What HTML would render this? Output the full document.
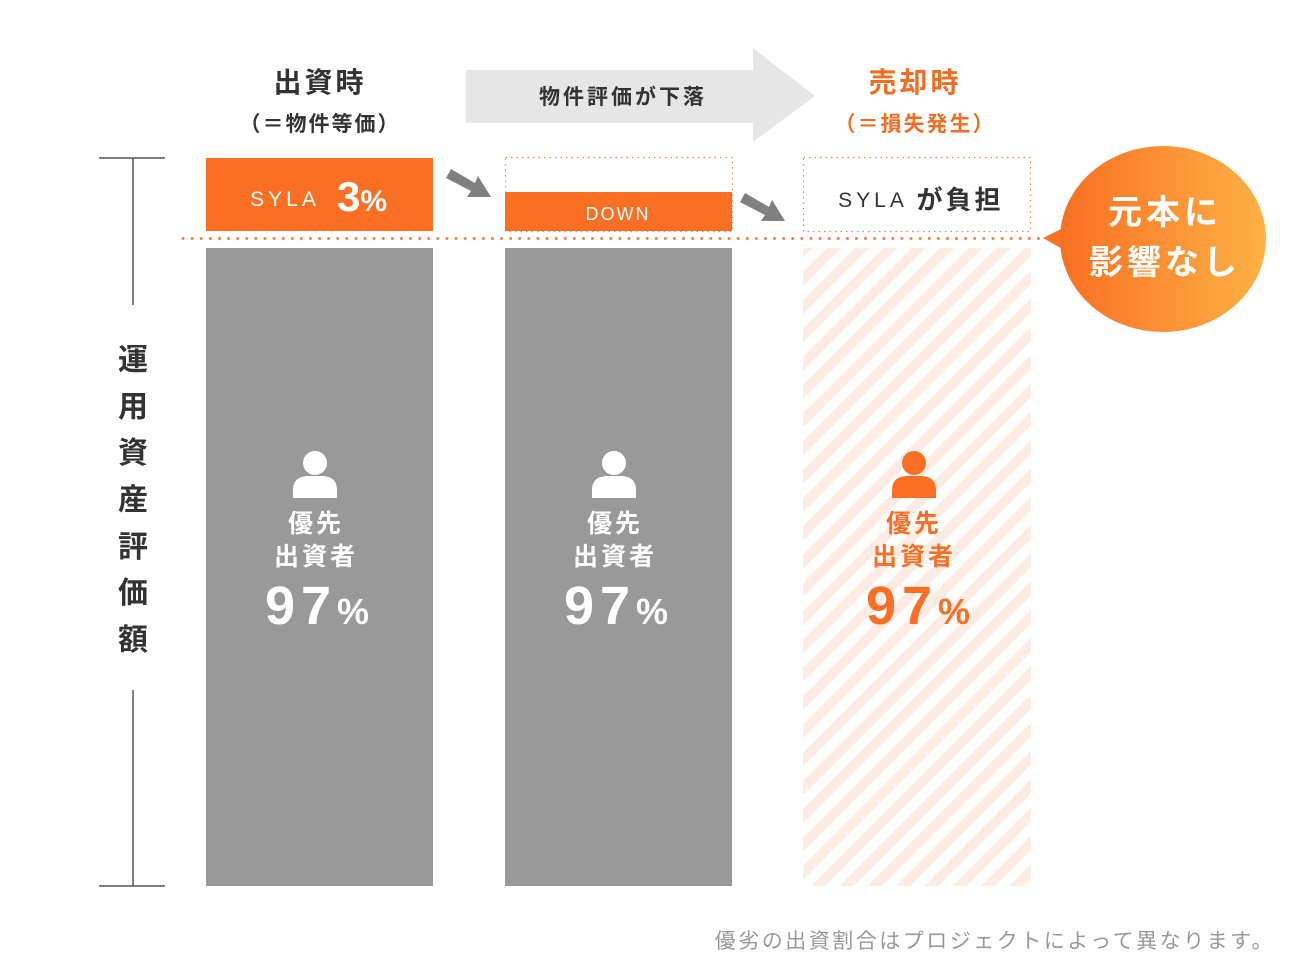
<!DOCTYPE html>
<html><head><meta charset="utf-8"><style>
html,body{margin:0;padding:0;background:#fff;}
svg{display:block;}
text{font-family:"Liberation Sans","Noto Sans CJK JP",sans-serif;}
</style></head><body>
<svg width="1296" height="972" viewBox="0 0 1296 972" xmlns="http://www.w3.org/2000/svg">
<defs>
<pattern id="st" patternUnits="userSpaceOnUse" width="20" height="20" patternTransform="rotate(45)">
<rect width="20" height="20" fill="#fff"/><rect width="10" height="20" fill="#fdece3"/>
</pattern>
<linearGradient id="g" x1="0" x2="1" y1="0" y2="0"><stop offset="0" stop-color="#f96f22"/><stop offset="1" stop-color="#fdb146"/></linearGradient>
<g id="person"><circle cx="0" cy="463" r="12"/><path d="M-22 498 V490 Q-22 477 -8 476 H8 Q22 477 22 490 V498 Z"/></g>
</defs>
<text x="320" y="92" font-size="28" font-weight="bold" fill="#333" text-anchor="middle" letter-spacing="3">出資時</text>
<text x="320" y="131" font-size="21" font-weight="bold" fill="#333" text-anchor="middle" letter-spacing="2">（＝物件等価）</text>
<text x="915" y="92" font-size="28" font-weight="bold" fill="#f26d21" text-anchor="middle" letter-spacing="3">売却時</text>
<text x="915" y="131" font-size="21" font-weight="bold" fill="#f26d21" text-anchor="middle" letter-spacing="2">（＝損失発生）</text>
<polygon points="466,70 753,70 753,48 815,96 753,142 753,123 466,123" fill="#e6e6e6"/>
<text x="623" y="104" font-size="21" font-weight="bold" fill="#333" text-anchor="middle" letter-spacing="3">物件評価が下落</text>
<line x1="99" y1="158" x2="165" y2="158" stroke="#555" stroke-width="1.5"/>
<line x1="99" y1="886" x2="165" y2="886" stroke="#555" stroke-width="1.5"/>
<line x1="133" y1="158" x2="133" y2="305" stroke="#555" stroke-width="1.5"/>
<line x1="133" y1="690" x2="133" y2="886" stroke="#555" stroke-width="1.5"/>
<g font-size="30" font-weight="bold" fill="#333" text-anchor="middle">
<text x="133" y="370">運</text><text x="133" y="417">用</text><text x="133" y="463">資</text><text x="133" y="510">産</text><text x="133" y="557">評</text><text x="133" y="603">価</text><text x="133" y="650">額</text>
</g>
<rect x="206" y="158" width="227" height="73" fill="#fb6f24"/>
<text x="285" y="206" font-size="21" fill="#fff" text-anchor="middle" letter-spacing="4">SYLA</text>
<text x="362" y="211" font-size="42" font-weight="bold" fill="#fff" text-anchor="middle">3<tspan font-size="30">%</tspan></text>
<rect x="206" y="248" width="227" height="638" fill="#999"/>
<rect x="505.5" y="157.5" width="227" height="74" fill="none" stroke="#f4844a" stroke-width="1.2" stroke-dasharray="1.5 4"/>
<rect x="505" y="192" width="227" height="39" fill="#fb6f24"/>
<text x="618" y="220" font-size="18" fill="#fff" text-anchor="middle" letter-spacing="2">DOWN</text>
<rect x="505" y="248" width="227" height="638" fill="#999"/>
<g fill="#808080">
<polygon points="446,178 451,169 475,183 478,176 491,197 467,197 471,191"/>
<polygon points="740,202 745,193 769,207 772,200 785,221 761,221 765,215"/>
</g>
<rect x="803.5" y="157.5" width="227" height="74" fill="none" stroke="#f4844a" stroke-width="1.2" stroke-dasharray="1.5 4"/>
<text x="873" y="207" font-size="21" fill="#333" text-anchor="middle" letter-spacing="4">SYLA</text>
<text x="960" y="209" font-size="26" font-weight="bold" fill="#333" text-anchor="middle" letter-spacing="3">が負担</text>
<rect x="803" y="248" width="228" height="638" fill="url(#st)"/>
<line x1="183" y1="238.5" x2="1043" y2="238.5" stroke="#f4844a" stroke-width="3" stroke-dasharray="0.1 9" stroke-linecap="round"/>
<polygon points="1043,238 1075,222 1075,256" fill="#f97325"/>
<ellipse cx="1163" cy="239" rx="103" ry="93" fill="url(#g)"/>
<text x="1165" y="224" font-size="34" font-weight="bold" fill="#fff" text-anchor="middle" letter-spacing="4">元本に</text>
<text x="1165" y="274" font-size="34" font-weight="bold" fill="#fff" text-anchor="middle" letter-spacing="4">影響なし</text>
<g fill="#fff"><use href="#person" x="315"/><use href="#person" x="614"/></g>
<g fill="#fb6f24"><use href="#person" x="914"/></g>
<g font-size="25" font-weight="bold" text-anchor="middle" letter-spacing="3">
<text x="316" y="532" fill="#fff">優先</text><text x="316" y="565" fill="#fff">出資者</text>
<text x="615" y="532" fill="#fff">優先</text><text x="615" y="565" fill="#fff">出資者</text>
<text x="914" y="532" fill="#fb6f24">優先</text><text x="914" y="565" fill="#fb6f24">出資者</text>
</g>
<g font-size="54" font-weight="bold" text-anchor="middle" letter-spacing="6">
<text x="320" y="624" fill="#fff">97<tspan font-size="36">%</tspan></text>
<text x="619" y="624" fill="#fff">97<tspan font-size="36">%</tspan></text>
<text x="921" y="624" fill="#fb6f24">97<tspan font-size="36">%</tspan></text>
</g>
<text x="1275" y="948" font-size="21" fill="#999" text-anchor="end" letter-spacing="2.5">優劣の出資割合はプロジェクトによって異なります。</text>
</svg>
</body></html>
